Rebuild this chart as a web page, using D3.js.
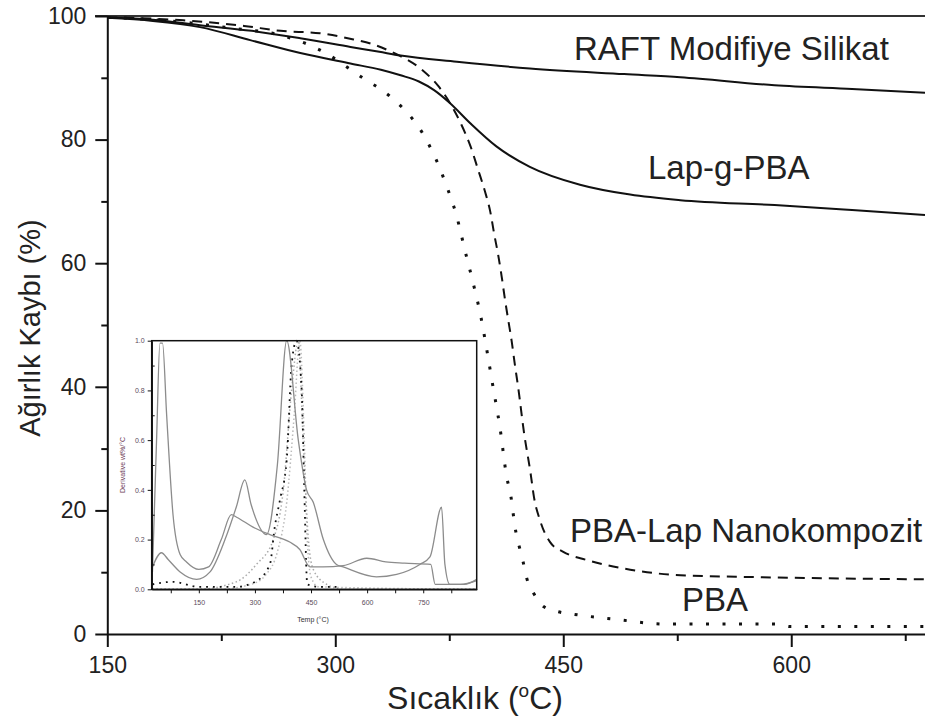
<html>
    <head>
        <style>
            body { margin: 0; background: #fff; }
            text { font-family: "Liberation Sans", Arial, sans-serif; }
        </style>
        <script src="https://d3js.org/d3.v7.min.js"></script>
    </head>
    <body>
        <svg width="925" height="722"></svg>
        <script>
            // main TGA curves (temperature in C, weight %)
            let raftT = [150, 180, 211, 245, 277, 310, 329, 343, 380, 428, 490, 527, 589, 640, 688]
            let raftW = [99.7, 99.4, 98.5, 97.6, 96.4, 95.0, 94.2, 93.6, 92.6, 91.5, 90.6, 90.1, 88.8, 88.2, 87.6]

            let lapT = [150, 180, 211, 244, 277, 310, 330, 343, 355, 365, 375, 389, 406, 428, 461, 494, 527, 589, 640, 688]
            let lapW = [99.7, 99.2, 98.2, 96.1, 94.0, 92.3, 91.3, 90.4, 89.4, 88.0, 86.0, 82.6, 78.9, 75.6, 72.7, 71.1, 70.2, 69.4, 68.6, 67.8]

            let nanoT = [150, 200, 240, 264, 290, 312, 325, 337, 357, 368, 383, 389, 394, 398.5, 402, 404.5, 407.2, 409.5, 411.6, 413.8, 416.1, 418.2, 420.4, 424.1, 428.5, 430.7, 434.7, 441.2, 450, 465, 490, 527, 578, 688]
            let nanoW = [99.8, 99.3, 98.4, 97.6, 97.2, 96.2, 95.4, 94.2, 91.3, 88.6, 82.4, 78.9, 75.1, 71.6, 68.3, 64.8, 61.3, 57.8, 54.2, 50.8, 47.3, 43.5, 39.8, 32.7, 26.0, 22.2, 18.4, 14.9, 13.3, 12.0, 10.6, 9.5, 9.2, 8.85]

            let pbaT = [150, 200, 233, 264, 283, 293, 312, 321, 329, 337, 344, 351, 357.5, 363.4, 368.4, 372.6, 376.6, 380, 382.7, 385.3, 390.8, 395.9, 399.6, 403.3, 408.4, 412.8, 415.4, 418.2, 423.3, 426, 430.7, 437.3, 446.7, 456.6, 487, 517, 589, 600, 688]
            let pbaW = [99.8, 99.0, 98.0, 96.9, 95.3, 94.1, 91.0, 89.5, 88.3, 86.8, 85.2, 83.3, 81.0, 78.3, 75.6, 72.9, 70.2, 67.5, 64.8, 62.1, 56.7, 51.2, 46.1, 40.7, 33.3, 25.4, 22.5, 17.4, 12.0, 9.0, 6.5, 4.4, 3.6, 3.2, 2.3, 1.6, 1.6, 1.2, 1.2]

            // inset DTG curves
            let dtgAT = [26, 37, 46, 53, 64, 81, 100, 117, 150, 176, 210, 237, 251, 295, 340, 393, 420, 447, 482, 536, 599, 650, 700, 770, 782, 850, 893]
            let dtgAV = [0.07, 0.6, 0.99, 0.99, 0.7, 0.3, 0.14, 0.11, 0.08, 0.09, 0.2, 0.3, 0.29, 0.25, 0.22, 0.19, 0.16, 0.09, 0.09, 0.095, 0.125, 0.11, 0.105, 0.1, 0.02, 0.02, 0.035]

            let dtgBT = [26, 50, 68, 100, 144, 180, 220, 250, 273, 290, 331, 360, 385, 416, 438, 456, 483, 518, 536, 625, 679, 741, 768, 799, 808, 821, 860, 893]
            let dtgBV = [0.09, 0.147, 0.12, 0.07, 0.04, 0.07, 0.2, 0.33, 0.44, 0.34, 0.22, 0.5, 1.0, 0.6, 0.4, 0.35, 0.2, 0.1, 0.09, 0.05, 0.06, 0.1, 0.13, 0.33, 0.1, 0.02, 0.02, 0.04]

            let dotGrayT = [26, 144, 250, 304, 349, 376, 398, 416, 429, 443, 456, 492, 536, 893]
            let dotGrayV = [0, 0, 0.03, 0.1, 0.2, 0.4, 0.8, 1.0, 0.6, 0.2, 0.08, 0.02, 0, 0]

            let dotGray2T = [26, 200, 290, 330, 360, 385, 405, 420, 432, 440, 450, 470, 893]
            let dotGray2V = [0, 0, 0.02, 0.06, 0.15, 0.35, 0.7, 1.0, 0.6, 0.2, 0.05, 0.01, 0]

            let dotBlackT = [26, 80, 150, 250, 300, 340, 353, 367, 385, 398, 411, 425, 432, 440, 470, 520]
            let dotBlackV = [0.02, 0.03, 0.01, 0.01, 0.03, 0.1, 0.25, 0.36, 0.52, 0.9, 1.0, 0.8, 0.4, 0.02, 0.01, 0.01]

            let xTicks = [150, 300, 450, 600]
            let xMinor = [225, 375, 525, 675]
            let yTicks = [0, 20, 40, 60, 80, 100]
            let yMinor = [10, 30, 50, 70, 90]
            let insetXLabels = [150, 300, 450, 600, 750]
            let insetXTicks = [75, 150, 225, 300, 375, 450, 525, 600, 675, 750, 825]
            let insetYTicks = [0, 0.2, 0.4, 0.6, 0.8, 1.0]
            let insetYMinor = [0.1, 0.3, 0.5, 0.7, 0.9]

            let svg = d3.select("svg")

            let x = d3.scaleLinear().domain([150, 688]).range([107.3, 925]),
                y = d3.scaleLinear().domain([0, 100]).range([634, 16])

            function zip(ts, vs) { return ts.map(function(t, i) { return [t, vs[i]]; }); }

            let line = d3.line()
                .x(function(d) { return x(d[0]); })
                .y(function(d) { return y(d[1]); })
                .curve(d3.curveMonotoneX)

            // top frame line
            svg.append("line")
               .attr("x1", 95).attr("x2", 925)
               .attr("y1", y(100)).attr("y2", y(100))
               .attr("stroke", "#333").attr("stroke-width", 2)

            // curves
            svg.append("path").datum(zip(raftT, raftW))
               .attr("d", line).attr("fill", "none")
               .attr("stroke", "#111").attr("stroke-width", 2)
            svg.append("path").datum(zip(lapT, lapW))
               .attr("d", line).attr("fill", "none")
               .attr("stroke", "#111").attr("stroke-width", 2)
            svg.append("path").datum(zip(nanoT, nanoW))
               .attr("d", line).attr("fill", "none")
               .attr("stroke", "#111").attr("stroke-width", 2)
               .attr("stroke-dasharray", "10,7")
            svg.append("path").datum(zip(pbaT, pbaW))
               .attr("d", line).attr("fill", "none")
               .attr("stroke", "#111").attr("stroke-width", 3)
               .attr("stroke-dasharray", "3,13.5")

            // axes
            let xAxis = svg.append("g")
               .attr("transform", "translate(0," + y(0) + ")")
               .call(d3.axisBottom(x).tickValues(xTicks).tickSize(13).tickSizeOuter(0).tickPadding(10).tickFormat(d3.format("d")))
            svg.append("g")
               .attr("transform", "translate(0," + y(0) + ")")
               .call(d3.axisBottom(x).tickValues(xMinor).tickSize(7).tickFormat(""))
               .select(".domain").remove()
            let yAxis = svg.append("g")
               .attr("transform", "translate(" + x(150) + ",0)")
               .call(d3.axisLeft(y).tickValues(yTicks).tickSize(12).tickSizeOuter(0).tickPadding(9))
            svg.append("g")
               .attr("transform", "translate(" + x(150) + ",0)")
               .call(d3.axisLeft(y).tickValues(yMinor).tickSize(6).tickFormat(""))
               .select(".domain").remove()

            svg.selectAll(".domain, .tick line").attr("stroke", "#111").attr("stroke-width", 2)
            svg.selectAll(".tick text").attr("font-size", 23).attr("fill", "#222")
               .attr("font-family", "Liberation Sans, Arial, sans-serif")

            // axis titles
            let xt = svg.append("text")
               .attr("x", 475).attr("y", 709)
               .attr("text-anchor", "middle")
               .attr("font-size", 32).attr("fill", "#222")
            xt.append("tspan").text("Sıcaklık (")
            xt.append("tspan").attr("font-size", 19).attr("dy", -12).text("o")
            xt.append("tspan").attr("dy", 12).text("C)")

            svg.append("text")
               .attr("transform", "translate(40,328) rotate(-90)")
               .attr("text-anchor", "middle")
               .attr("font-size", 29).attr("fill", "#222")
               .text("Ağırlık Kaybı (%)")

            // series labels
            let labels = [
                ["RAFT Modifiye Silikat", 574, 60],
                ["Lap-g-PBA", 648, 179],
                ["PBA-Lap Nanokompozit", 570, 542],
                ["PBA", 682, 611]
            ]
            svg.selectAll(".lbl").data(labels).enter().append("text")
               .attr("class", "lbl")
               .attr("x", function(d) { return d[1]; })
               .attr("y", function(d) { return d[2]; })
               .attr("font-size", 33).attr("fill", "#222")
               .text(function(d) { return d[0]; })

            // inset DTG plot
            let ix = d3.scaleLinear().domain([24, 893]).range([151.7, 476.7]),
                iy = d3.scaleLinear().domain([0, 1]).range([589.3, 340.7])

            let inset = svg.append("g")
            inset.append("rect")
               .attr("x", ix(24)).attr("y", iy(1))
               .attr("width", ix(893) - ix(24)).attr("height", iy(0) - iy(1))
               .attr("fill", "#fff")

            let iline = d3.line()
                .x(function(d) { return ix(d[0]); })
                .y(function(d) { return iy(d[1]); })
                .curve(d3.curveMonotoneX)

            inset.append("path").datum(zip(dotGrayT, dotGrayV))
               .attr("d", iline).attr("fill", "none")
               .attr("stroke", "#aaa").attr("stroke-width", 1.5).attr("stroke-dasharray", "1.5,2.5")
            inset.append("path").datum(zip(dotGray2T, dotGray2V))
               .attr("d", iline).attr("fill", "none")
               .attr("stroke", "#bbb").attr("stroke-width", 1.5).attr("stroke-dasharray", "1.5,2.5")
            inset.append("path").datum(zip(dotBlackT, dotBlackV))
               .attr("d", iline).attr("fill", "none")
               .attr("stroke", "#111").attr("stroke-width", 1.8).attr("stroke-dasharray", "1.8,5")
            inset.append("path").datum(zip(dtgAT, dtgAV))
               .attr("d", iline).attr("fill", "none")
               .attr("stroke", "#8c8c8c").attr("stroke-width", 1.3)
            inset.append("path").datum(zip(dtgBT, dtgBV))
               .attr("d", iline).attr("fill", "none")
               .attr("stroke", "#8c8c8c").attr("stroke-width", 1.3)

            inset.append("rect")
               .attr("x", ix(24)).attr("y", iy(1))
               .attr("width", ix(893) - ix(24)).attr("height", iy(0) - iy(1))
               .attr("fill", "none").attr("stroke", "#111").attr("stroke-width", 1.5)

            let ixAxis = inset.append("g")
               .attr("transform", "translate(0," + iy(0) + ")")
               .call(d3.axisBottom(ix).tickValues(insetXTicks).tickSize(4).tickSizeOuter(0).tickPadding(7)
                   .tickFormat(function(d) { return insetXLabels.indexOf(d) >= 0 ? d : ""; }))
            let iyAxis = inset.append("g")
               .attr("transform", "translate(" + ix(24) + ",0)")
               .call(d3.axisLeft(iy).tickValues(insetYTicks).tickSize(4).tickSizeOuter(0).tickPadding(3).tickFormat(d3.format(".1f")))
            inset.append("g")
               .attr("transform", "translate(" + ix(24) + ",0)")
               .call(d3.axisLeft(iy).tickValues(insetYMinor).tickSize(-3).tickFormat(""))
               .select(".domain").remove()

            inset.selectAll(".domain").attr("stroke", "#111").attr("stroke-width", 1.5)
            inset.selectAll(".tick line").attr("stroke", "#111").attr("stroke-width", 1)
            inset.selectAll(".tick text").attr("font-size", 7).attr("fill", "#5a4a5a")

            inset.append("text")
               .attr("x", 313).attr("y", 622)
               .attr("text-anchor", "middle")
               .attr("font-size", 7).attr("fill", "#333")
               .text("Temp (°C)")
            inset.append("text")
               .attr("transform", "translate(125,465) rotate(-90)")
               .attr("text-anchor", "middle")
               .attr("font-size", 7).attr("fill", "#6b3b55")
               .text("Derivative wt%/°C")
        </script>
    </body>
</html>
